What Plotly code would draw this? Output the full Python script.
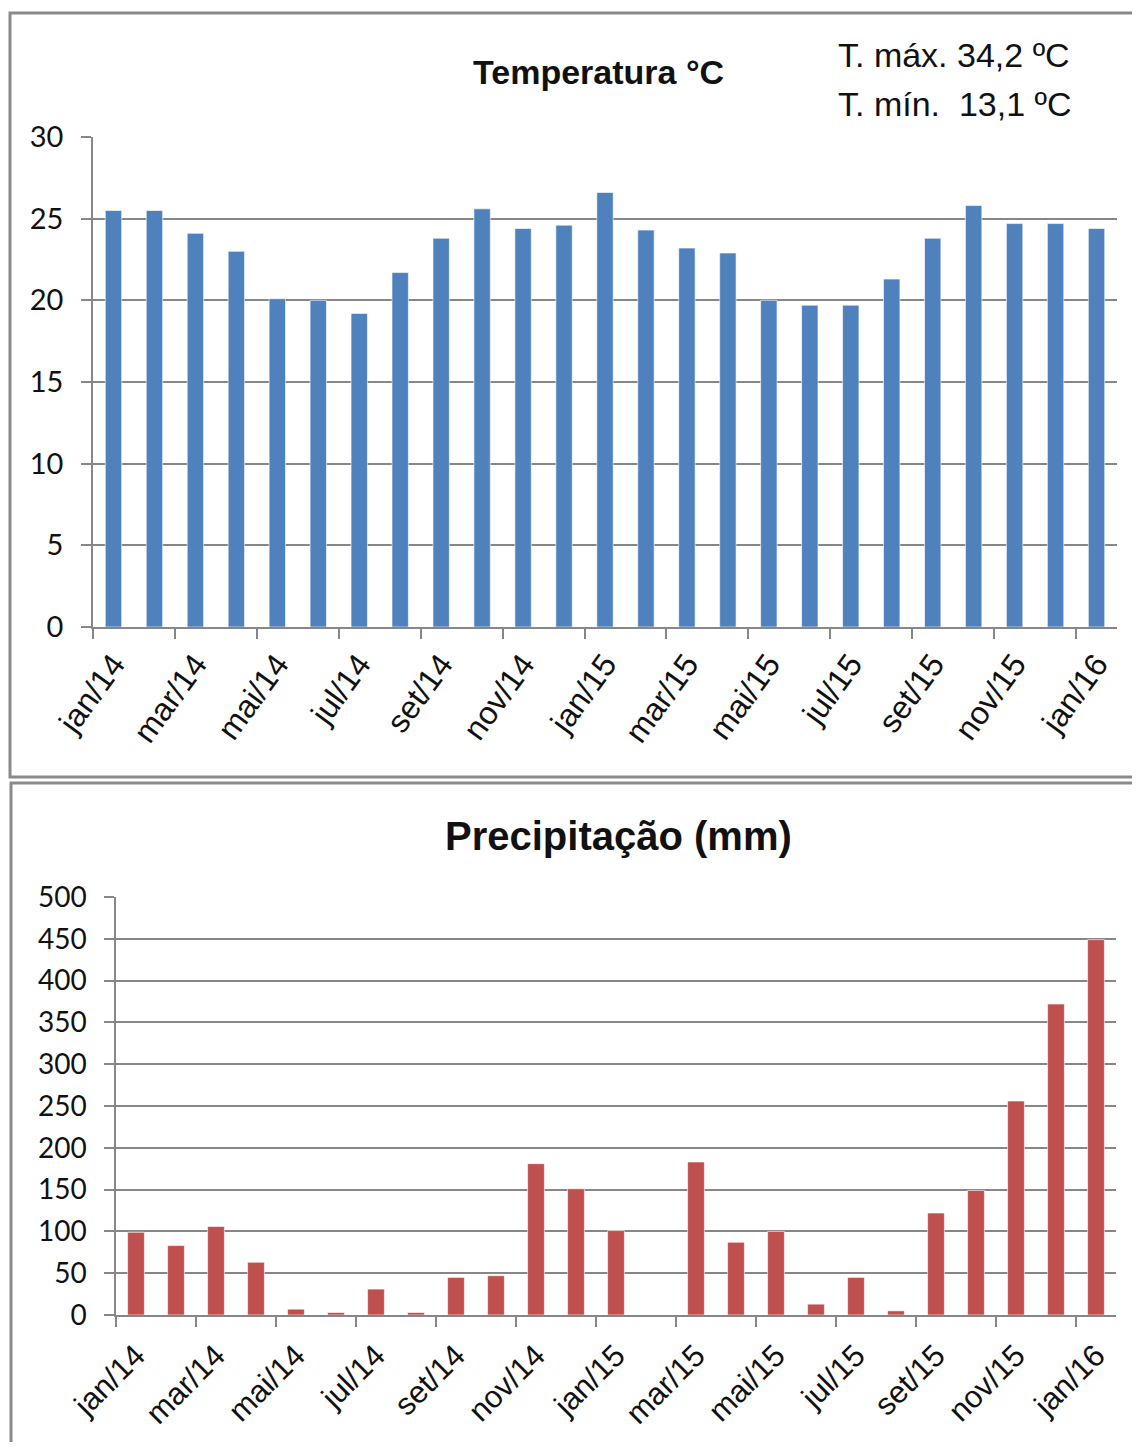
import plotly.graph_objects as go

# ---------------- data ----------------
months = ["jan/14", "fev/14", "mar/14", "abr/14", "mai/14", "jun/14", "jul/14", "ago/14",
          "set/14", "out/14", "nov/14", "dez/14", "jan/15", "fev/15", "mar/15", "abr/15",
          "mai/15", "jun/15", "jul/15", "ago/15", "set/15", "out/15", "nov/15", "dez/15",
          "jan/16"]
temperatura = [25.5, 25.5, 24.1, 23.0, 20.1, 20.0, 19.2, 21.7, 23.8, 25.6, 24.4, 24.6,
               26.6, 24.3, 23.2, 22.9, 20.0, 19.7, 19.7, 21.3, 23.8, 25.8, 24.7, 24.7,
               24.4]
precipitacao = [99, 83, 106, 63, 7, 3, 31, 3, 45, 47, 181, 151,
                101, 0, 183, 87, 100, 13, 45, 5, 122, 149, 256, 372,
                449]
temp_ticks = [0, 5, 10, 15, 20, 25, 30]
prec_ticks = [0, 50, 100, 150, 200, 250, 300, 350, 400, 450, 500]
temp_title = "Temperatura °C"
temp_notes = ["T. máx. 34,2 ºC", "T. mín.\u00a0 13,1 ºC"]
prec_title = "Precipitação (mm)"

# ---------------- layout helpers ----------------
OFF = 8                      # page body margin
W, H = 1140 - 2 * OFF, 1450 - 2 * OFF
def fx(p):
    return (p - OFF) / W
def fy(p):
    return 1 - (p - OFF) / H

idx = list(range(len(months)))
label_idx = idx[::2]
label_txt = [months[i] for i in label_idx]
bound_vals = [i - 0.5 for i in label_idx]

GRAY = "#878787"
BLUE = "#4F81BD"
RED = "#C0504D"
ARIAL = "Liberation Sans, Arial, sans-serif"
HUMAN = "Lato, Open Sans, sans-serif"

fig = go.Figure()
fig.add_trace(go.Bar(x=idx, y=temperatura, xaxis="x", yaxis="y", width=0.4,
                     marker=dict(color=BLUE, line=dict(color="rgba(255,255,255,0.6)", width=1)),
                     showlegend=False))
fig.add_trace(go.Bar(x=idx, y=precipitacao, xaxis="x2", yaxis="y2", width=0.42,
                     marker=dict(color=RED, line=dict(color="rgba(255,255,255,0.6)", width=1)),
                     showlegend=False))
# invisible carriers so that the label axes are drawn
fig.add_trace(go.Scatter(x=[label_idx[0]], y=[0], xaxis="x3", yaxis="y", mode="none",
                         showlegend=False, hoverinfo="skip"))
fig.add_trace(go.Scatter(x=[label_idx[0]], y=[0], xaxis="x4", yaxis="y2", mode="none",
                         showlegend=False, hoverinfo="skip"))

xr = [-0.5, len(months) - 0.5]

common_tick_axis = dict(range=xr, tickmode="array", tickvals=bound_vals, ticks="outside",
                        ticklen=10, tickwidth=1.5, tickcolor=GRAY, showticklabels=False,
                        showline=True, linecolor=GRAY, linewidth=1.5, showgrid=False,
                        zeroline=False, fixedrange=True, automargin=False)

fig.update_layout(
    template="none",
    width=W, height=H,
    margin=dict(l=0, r=0, t=0, b=0, pad=0, autoexpand=False),
    paper_bgcolor="white", plot_bgcolor="white",
    bargap=0.5,
    xaxis=dict(domain=[fx(93), fx(1117)], anchor="y", **common_tick_axis),
    xaxis3=dict(overlaying="x", anchor="y", side="bottom", range=xr, tickmode="array",
                tickvals=label_idx, ticktext=label_txt, tickangle=-54, ticks="",
                showline=False, showgrid=False, zeroline=False, ticklabelstandoff=11,
                automargin=False,
                tickfont=dict(family=ARIAL, size=32, color="#111111")),
    yaxis=dict(domain=[fy(627), fy(137)], anchor="x", range=[0, 30], tickmode="array",
               tickvals=temp_ticks, showgrid=True, gridcolor=GRAY, gridwidth=1.5,
               ticks="outside", ticklen=10, tickwidth=1.5, tickcolor=GRAY,
               showline=True, linecolor=GRAY, linewidth=1.5, zeroline=False,
               ticklabelstandoff=12, automargin=False,
               tickfont=dict(family=HUMAN, size=29, color="#111111")),
    xaxis2=dict(domain=[fx(116), fx(1116)], anchor="y2", **common_tick_axis),
    xaxis4=dict(overlaying="x2", anchor="y2", side="bottom", range=xr, tickmode="array",
                tickvals=label_idx, ticktext=label_txt, tickangle=-45, ticks="",
                showline=False, showgrid=False, zeroline=False, ticklabelstandoff=15,
                automargin=False,
                tickfont=dict(family=ARIAL, size=31, color="#111111")),
    yaxis2=dict(domain=[fy(1315), fy(897)], anchor="x2", range=[0, 500], tickmode="array",
                tickvals=prec_ticks, showgrid=True, gridcolor=GRAY, gridwidth=1.5,
                ticks="outside", ticklen=10, tickwidth=1.5, tickcolor=GRAY,
                showline=True, linecolor=GRAY, linewidth=1.5, zeroline=False,
                ticklabelstandoff=12, automargin=False,
                tickfont=dict(family=HUMAN, size=28, color="#111111")),
)

# panel borders
fig.add_shape(type="rect", xref="paper", yref="paper", x0=fx(10), x1=fx(1160),
              y0=fy(777), y1=fy(13), line=dict(color="#8a8a8a", width=3))
fig.add_shape(type="rect", xref="paper", yref="paper", x0=fx(11), x1=fx(1160),
              y0=fy(1470), y1=fy(783), line=dict(color="#8a8a8a", width=3))

# titles and notes
fig.add_annotation(text="<b>" + temp_title + "</b>", xref="paper", yref="paper",
                   x=fx(598), y=fy(72), xanchor="center", yanchor="middle", showarrow=False,
                   font=dict(family=ARIAL, size=34, color="#111111"))
fig.add_annotation(text=temp_notes[0], xref="paper", yref="paper",
                   x=fx(836), y=fy(55), xanchor="left", yanchor="middle", showarrow=False,
                   font=dict(family=ARIAL, size=34, color="#111111"))
fig.add_annotation(text=temp_notes[1], xref="paper", yref="paper",
                   x=fx(836), y=fy(104), xanchor="left", yanchor="middle", showarrow=False,
                   font=dict(family=ARIAL, size=34, color="#111111"))
fig.add_annotation(text="<b>" + prec_title + "</b>", xref="paper", yref="paper",
                   x=fx(618), y=fy(836), xanchor="center", yanchor="middle", showarrow=False,
                   font=dict(family=ARIAL, size=40, color="#111111"))

fig.write_html("out.html")
